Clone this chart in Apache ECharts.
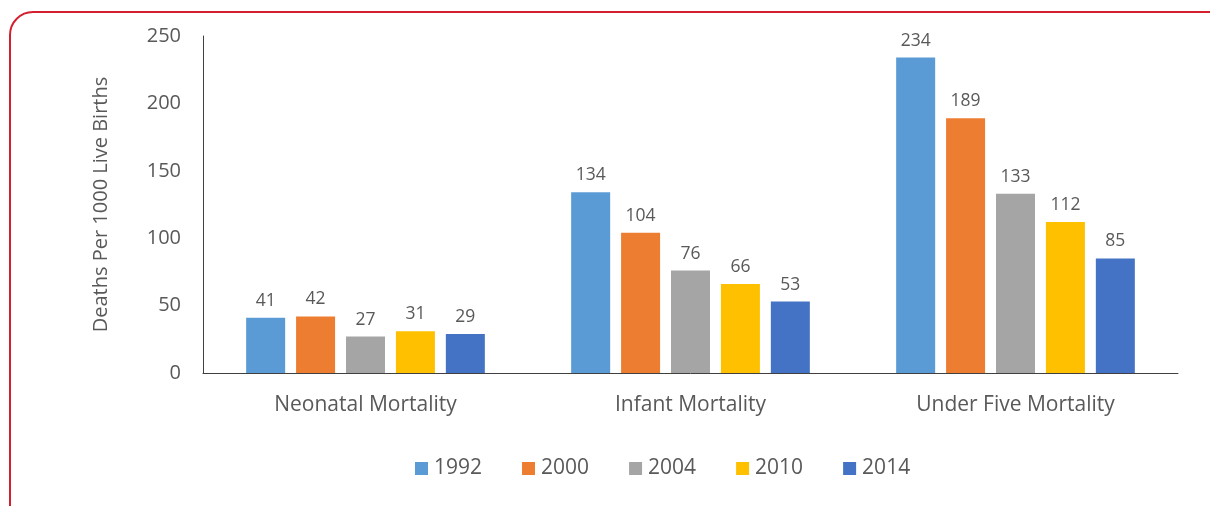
<!DOCTYPE html>
<html>
<head>
<meta charset="utf-8">
<script src="https://cdn.jsdelivr.net/npm/echarts@6/dist/echarts.min.js"></script>
<style>
html,body{margin:0;padding:0;background:#fff;overflow:hidden;}
#frame{position:absolute;left:9px;top:11px;width:1230px;height:530px;border:2.5px solid #d3202f;border-radius:24px;box-sizing:border-box;}
#chart{position:absolute;left:0;top:0;width:1210px;height:506px;}
</style>
</head>
<body>
<div id="frame"></div>
<div id="chart"></div>
<script>
const categories = ['Neonatal Mortality', 'Infant Mortality', 'Under Five Mortality'];
const years = ['1992', '2000', '2004', '2010', '2014'];
const v1992 = [41, 134, 234];
const v2000 = [42, 104, 189];
const v2004 = [27, 76, 133];
const v2010 = [31, 66, 112];
const v2014 = [29, 53, 85];
const yTicks = [0, 50, 100, 150, 200, 250];
const colors = ['#5B9BD5', '#ED7D31', '#A5A5A5', '#FFC000', '#4472C4'];
const seriesValues = [v1992, v2000, v2004, v2010, v2014];

const font = 'Open Sans';
const txt = '#595959';
const chart = echarts.init(document.getElementById('chart'), null, {renderer: 'canvas'});
chart.setOption({
  animation: false,
  textStyle: {fontFamily: font},
  grid: {left: 203, right: 32, top: 36, bottom: 133, containLabel: false},
  legend: {
    data: years,
    top: 453,
    left: 410,
    itemWidth: 13,
    itemHeight: 13,
    itemGap: 40,
    icon: 'rect',
    textStyle: {fontFamily: font, fontSize: 21, color: txt, padding: [0, 0, 0, 1]}
  },
  xAxis: {
    type: 'category',
    data: categories,
    axisLine: {lineStyle: {color: '#404040', width: 1}},
    axisTick: {show: false},
    axisLabel: {fontFamily: font, fontSize: 21, color: txt, margin: 22}
  },
  yAxis: {
    type: 'value',
    min: 0, max: 250, interval: 50,
    name: 'Deaths Per 1000 Live Births',
    nameLocation: 'middle',
    nameGap: 92,
    nameTextStyle: {fontFamily: font, fontSize: 20, color: txt},
    axisLine: {show: true, lineStyle: {color: '#404040', width: 1}},
    axisTick: {show: false},
    splitLine: {show: false},
    axisLabel: {fontFamily: font, fontSize: 20, color: txt, margin: 22,
      formatter: v => yTicks.includes(v) ? String(v) : ''}
  },
  series: years.map((y, i) => ({
    name: y,
    type: 'bar',
    data: seriesValues[i],
    barWidth: 39,
    barGap: '28%',
    itemStyle: {color: colors[i]},
    label: {show: true, position: 'top', distance: 8, fontFamily: font, fontSize: 17.5, color: txt}
  }))
});
</script>
</body>
</html>
